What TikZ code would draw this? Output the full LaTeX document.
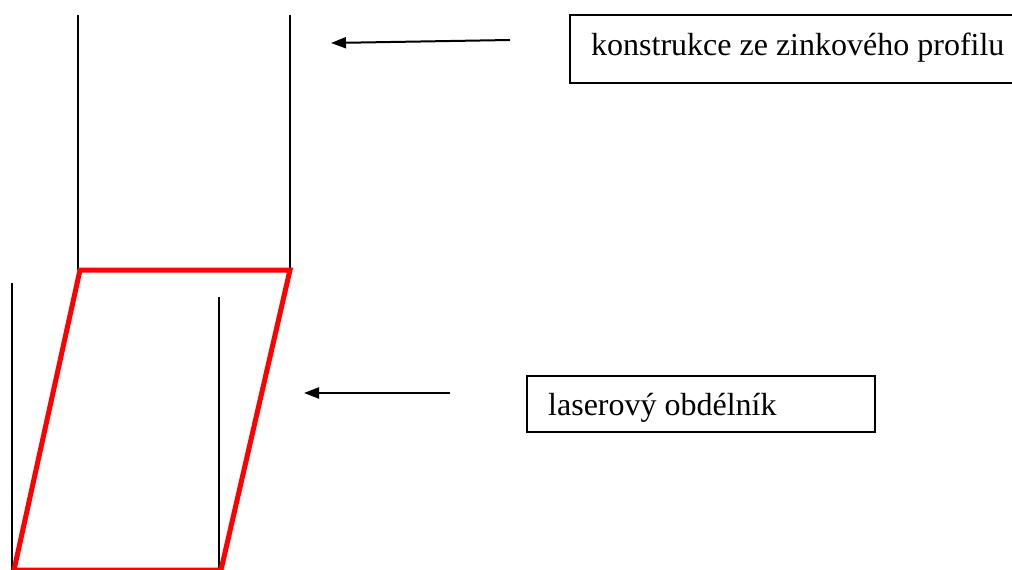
\documentclass[tikz,border=0pt]{standalone}
\usepackage{fontspec}
\setmainfont{Liberation Serif}
\newfontfamily\labelserif{Liberation Serif}
\usetikzlibrary{arrows.meta}
\tikzset{
  post/.style={draw=black, line width=1.5pt},
  laser/.style={draw=red, line width=5pt, line join=miter},
  pointer/.style={draw=black, line width=2pt, -{Triangle[length=15pt,width=11pt]}},
  labelbox/.style={draw=black, line width=1.5pt},
  labeltext/.style={font=\labelserif\fontsize{32}{38}\selectfont, inner sep=0pt, anchor=base west}
}
\begin{document}
\begin{tikzpicture}[x=1pt,y=-1pt]
\useasboundingbox (0,0) rectangle (1012,570);
\clip (0,0) rectangle (1012,570);
% upper profile
\draw[post] (78,15) -- (78,270);
\draw[post] (290,15) -- (290,270);
% lower profile
\draw[post] (12,283) -- (12,575);
\draw[post] (219,297) -- (219,575);
% laser parallelogram
\draw[laser] (80,270) -- (290,270) -- (221,570) -- (14,570) -- cycle;
% label boxes
\draw[labelbox] (570,15) rectangle (1030,83);
\node[labeltext] (t1) at (591,55) {konstrukce ze zinkového profilu};
\draw[labelbox] (527,376) rectangle (875,432);
\node[labeltext] (t2) at (548,415) {laserový obdélník};
% arrows
\coordinate (a1s) at (510,40);
\coordinate (a1e) at (331,43);
\coordinate (a2s) at (450,393);
\coordinate (a2e) at (304,393);
\draw[pointer] (a1s) -- (a1e);
\draw[pointer] (a2s) -- (a2e);
\end{tikzpicture}
\end{document}
